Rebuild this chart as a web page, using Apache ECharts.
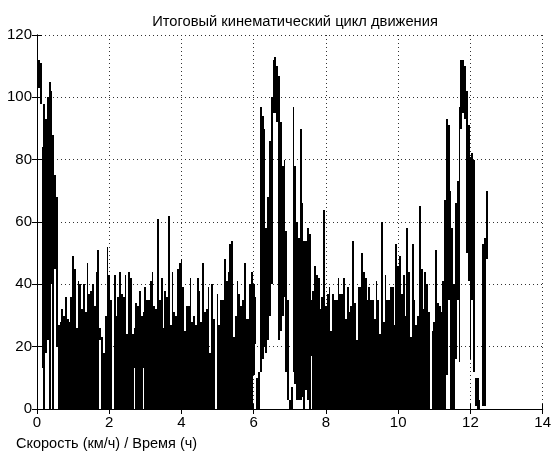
<!DOCTYPE html>
<html>
<head>
<meta charset="utf-8">
<title>Итоговый кинематический цикл движения</title>
<script src="https://cdn.jsdelivr.net/npm/echarts@6/dist/echarts.min.js"></script>
<style>
    html, body { margin: 0; padding: 0; background: #fff; }
    #chart { width: 554px; height: 451px; }
</style>
</head>
<body>
<div id="chart"></div>
<script>
// шаг записи, ч
var STEP = 0.05;

// нижняя граница "пачки" скорости в каждом отсчёте, км/ч
var speedLow = [
    104, 103, 98, 13, 0, 18, 22, 0, 40, 0,
    45, 20, 0, 0, 0, 0, 0, 0, 0, 0,
    0, 0, 0, 0, 0, 0, 0, 0, 0, 0,
    0, 0, 0, 0, 0, 22, 0, 0, 0, 0,
    0, 0, 0, 0, 0, 0, 0, 0, 0, 0,
    0, 0, 0, 0, 13, 0, 0, 0, 0, 13,
    0, 0, 0, 0, 0, 0, 0, 0, 0, 0,
    0, 0, 0, 0, 0, 0, 0, 0, 0, 0,
    0, 0, 0, 0, 0, 0, 0, 0, 0, 0,
    0, 0, 0, 0, 0, 0, 0, 0, 0, 0,
    0, 0, 0, 0, 0, 0, 0, 0, 0, 0,
    0, 0, 0, 0, 0, 0, 0, 0, 0, 0,
    11, 21, 0, 0, 12, 16, 20, 18, 22, 30,
    40, 95, 95, 92, 22, 25, 30, 36, 12, 3,
    0, 0, 12, 8, 3, 3, 3, 4, 0, 6,
    3, 0, 17, 0, 0, 0, 0, 0, 0, 0,
    0, 0, 0, 0, 0, 0, 0, 0, 0, 0,
    0, 0, 0, 0, 0, 0, 0, 0, 0, 0,
    0, 0, 0, 0, 0, 0, 0, 0, 0, 0,
    0, 0, 0, 0, 0, 0, 0, 0, 0, 0,
    0, 0, 0, 0, 0, 0, 0, 0, 0, 0,
    0, 0, 0, 0, 0, 0, 0, 0, 0, 0,
    0, 0, 0, 0, 0, 0, 0, 11, 35, 0,
    0, 0, 16, 35, 15, 90, 95, 93, 50, 41,
    16, 35, 12, 1, 0, 0, 0, 1, 1, 48
];

// верхняя граница, км/ч
var speedHigh = [
    113, 112, 111, 84, 98, 93, 100, 105, 102, 88,
    75, 68, 27, 28, 32, 30, 36, 29, 28, 36,
    49, 45, 26, 41, 40, 32, 40, 31, 47, 37,
    38, 40, 33, 44, 51, 26, 23, 18, 30, 52,
    43, 35, 0, 43, 30, 36, 44, 37, 36, 43,
    24, 44, 42, 24, 26, 34, 33, 38, 30, 31,
    39, 35, 35, 41, 44, 33, 32, 61, 35, 42,
    26, 38, 36, 62, 27, 44, 31, 30, 45, 47,
    48, 39, 25, 33, 33, 42, 28, 30, 27, 42,
    38, 28, 47, 31, 32, 39, 18, 40, 29, 0,
    37, 27, 35, 35, 48, 41, 44, 53, 54, 23,
    30, 41, 37, 33, 35, 47, 29, 29, 40, 44,
    40, 36, 10, 12, 97, 94, 90, 58, 68, 86,
    100, 112, 113, 110, 107, 92, 78, 80, 57, 35,
    3, 7, 97, 78, 60, 55, 90, 66, 54, 54,
    58, 56, 35, 38, 46, 43, 42, 32, 36, 64,
    33, 37, 39, 25, 37, 35, 35, 42, 37, 37,
    42, 29, 39, 31, 33, 54, 34, 22, 39, 39,
    50, 44, 42, 35, 39, 35, 35, 29, 41, 35,
    24, 60, 28, 43, 35, 35, 39, 39, 27, 53,
    46, 49, 37, 43, 30, 58, 44, 23, 53, 35,
    27, 30, 65, 45, 32, 44, 40, 31, 0, 25,
    28, 51, 34, 33, 31, 41, 67, 93, 91, 70,
    58, 40, 66, 73, 97, 112, 112, 110, 102, 91,
    81, 82, 80, 10, 10, 3, 0, 53, 55, 70
];

var xTicks = [0, 2, 4, 6, 8, 10, 12, 14];
var yTicks = [0, 20, 40, 60, 80, 100, 120];

var FONT = 'Liberation Sans, Arial, sans-serif';

var speedData = [];
for (var i = 0; i < speedHigh.length; i++) {
    speedData.push([+(i * STEP).toFixed(2), speedLow[i], speedHigh[i]]);
}

// вертикальная полоса от нижней до верхней скорости на каждом отсчёте,
// края по целым пикселям, чтобы соседние полосы не давали просветов
function renderSpan(params, api) {
    var t = api.value(0);
    var bottom = api.coord([t, api.value(1)]);
    var top = api.coord([t, api.value(2)]);
    var next = api.coord([t + STEP, api.value(1)]);
    var w = next[0] - bottom[0];
    var x0 = Math.round(bottom[0] - w / 2);
    var x1 = Math.round(bottom[0] + w / 2);
    var y0 = Math.round(top[1]);
    var y1 = Math.round(bottom[1]);
    if (y1 - y0 <= 0) return null;
    return {
        type: 'rect',
        shape: {x: x0, y: y0, width: Math.max(1, x1 - x0), height: y1 - y0},
        style: {fill: '#000', stroke: null}
    };
}

var chart = echarts.init(document.getElementById('chart'), null, {renderer: 'canvas'});

var dotted = {show: true, lineStyle: {color: '#333', width: 1, type: [1, 3]}};
var tick = {show: true, inside: true, length: 5, lineStyle: {color: '#000'}};
var line = {show: true, lineStyle: {color: '#000', width: 1}};

var option = {
    backgroundColor: '#fff',
    animation: false,
    title: [{
        text: 'Итоговый кинематический цикл движения',
        left: 290,
        top: 9,
        textAlign: 'center',
        textStyle: {fontFamily: FONT, fontSize: 14.7, fontWeight: 'normal', color: '#000'}
    }, {
        text: 'Скорость (км/ч) / Время (ч)',
        left: 11,
        top: 431,
        textStyle: {fontFamily: FONT, fontSize: 14.5, fontWeight: 'normal', color: '#000'}
    }],
    grid: {left: 37, right: 11, top: 35, bottom: 42, containLabel: false},
    xAxis: [{
        type: 'value',
        min: xTicks[0],
        max: xTicks[xTicks.length - 1],
        interval: 2,
        axisLine: line,
        axisTick: tick,
        splitLine: dotted,
        axisLabel: {fontFamily: FONT, fontSize: 15, color: '#000', margin: 6}
    }, {
        type: 'value',
        position: 'top',
        min: 0, max: 14, interval: 2,
        axisLine: line,
        axisTick: tick,
        splitLine: {show: false},
        axisLabel: {show: false}
    }],
    yAxis: [{
        type: 'value',
        min: yTicks[0],
        max: yTicks[yTicks.length - 1],
        interval: 20,
        axisLine: line,
        axisTick: tick,
        splitLine: dotted,
        axisLabel: {fontFamily: FONT, fontSize: 15, color: '#000', margin: 5}
    }, {
        type: 'value',
        position: 'right',
        min: 0, max: 120, interval: 20,
        axisLine: line,
        axisTick: tick,
        splitLine: {show: false},
        axisLabel: {show: false}
    }],
    series: [{
        type: 'custom',
        silent: true,
        clip: true,
        renderItem: renderSpan,
        encode: {x: 0, y: [1, 2]},
        data: speedData
    }]
};

chart.setOption(option);
</script>
</body>
</html>
